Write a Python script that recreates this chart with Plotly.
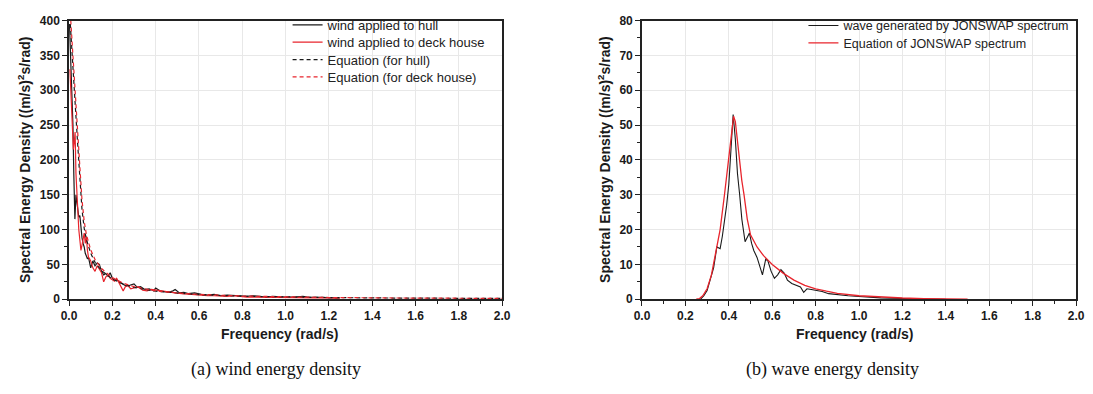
import plotly.graph_objects as go

# ---------- data: (a) wind energy density ----------
hull_f = [0.002, 0.006, 0.010, 0.014, 0.018, 0.022, 0.027, 0.032, 0.036, 0.040, 0.045, 0.050, 0.055,
          0.060, 0.065, 0.070, 0.075, 0.080, 0.085, 0.090, 0.095, 0.100, 0.110, 0.120, 0.130, 0.140,
          0.150, 0.160, 0.170, 0.180, 0.190, 0.200, 0.210, 0.220, 0.235, 0.250, 0.265, 0.280, 0.300,
          0.315, 0.330, 0.350, 0.370, 0.390, 0.400, 0.420, 0.440, 0.460, 0.480, 0.490, 0.510, 0.530,
          0.550, 0.580, 0.610, 0.640, 0.670, 0.700, 0.730, 0.760, 0.790, 0.820, 0.850, 0.880, 0.910,
          0.940, 0.970, 1.000, 1.040, 1.080, 1.100, 1.140, 1.180, 1.220, 1.250]
hull_v = [395, 360, 335, 310, 250, 180, 115, 150, 140, 125, 118, 120, 100, 88, 80, 75, 66, 62, 58,
          60, 50, 45, 55, 48, 52, 50, 40, 35, 37, 33, 38, 30, 27, 28, 24, 22, 19, 20, 22, 17, 18, 14,
          15, 12, 16, 12, 11, 10, 12, 14, 9, 10, 8, 9, 7, 6, 7, 5, 6, 6, 5, 4, 5, 4, 3, 4, 3, 3, 3, 4,
          3, 3, 2, 2, 2]

deck_f = [0.004, 0.008, 0.012, 0.016, 0.020, 0.024, 0.028, 0.032, 0.036, 0.040, 0.045, 0.050, 0.055,
          0.060, 0.065, 0.070, 0.075, 0.080, 0.085, 0.090, 0.095, 0.100, 0.110, 0.120, 0.130, 0.140,
          0.150, 0.160, 0.170, 0.180, 0.190, 0.200, 0.210, 0.220, 0.235, 0.250, 0.260, 0.270, 0.285,
          0.300, 0.320, 0.340, 0.360, 0.380, 0.400, 0.430, 0.460, 0.490, 0.520, 0.550, 0.580, 0.610,
          0.640, 0.670, 0.700, 0.730, 0.760, 0.790, 0.820, 0.860, 0.900, 0.940, 0.980, 1.020, 1.060,
          1.100, 1.140, 1.180, 1.220, 1.250]
deck_v = [330, 300, 285, 250, 215, 225, 240, 180, 150, 120, 100, 85, 70, 78, 90, 95, 80, 90, 70, 60,
          58, 55, 45, 40, 48, 42, 38, 25, 32, 35, 30, 28, 26, 30, 22, 12, 18, 20, 15, 16, 18, 13, 12,
          14, 13, 11, 10, 9, 8, 7, 6, 6, 5, 5, 4, 4, 5, 4, 3, 3, 3, 2.5, 2.5, 2, 2.5, 2, 2, 1.8, 1.6, 1.5]

eq_f = [0.004, 0.010, 0.020, 0.030, 0.040, 0.050, 0.060, 0.070, 0.080, 0.100, 0.120, 0.150, 0.200,
        0.250, 0.300, 0.400, 0.500, 0.600, 0.800, 1.000, 1.200, 1.500, 1.800, 2.000]
eq_hull_v = [405, 370, 322, 272, 222, 172, 128, 102, 86, 66, 53, 41, 29, 22, 17, 11.5, 8.5, 6.5, 4.3,
             3.1, 2.4, 1.7, 1.3, 1.1]
eq_deck_v = [420, 392, 345, 295, 245, 190, 142, 112, 93, 71, 57, 44, 31, 23, 18, 12, 9, 7, 4.6, 3.3,
             2.5, 1.8, 1.4, 1.2]

# ---------- data: (b) wave energy density ----------
wave_f = [0.270, 0.285, 0.300, 0.315, 0.330, 0.345, 0.360, 0.370, 0.380, 0.390, 0.400, 0.410, 0.420,
          0.430, 0.440, 0.450, 0.460, 0.475, 0.485, 0.495, 0.505, 0.515, 0.530, 0.545, 0.555, 0.570,
          0.580, 0.595, 0.610, 0.625, 0.640, 0.655, 0.670, 0.690, 0.710, 0.730, 0.745, 0.760, 0.780,
          0.800, 0.830, 0.860, 0.900, 0.950, 1.000, 1.050, 1.100, 1.200, 1.300, 1.400]
wave_v = [0.0, 1.0, 2.5, 5.5, 9.0, 15.0, 14.5, 18.0, 22.0, 27.0, 33.0, 42.0, 53.0, 46.0, 36.0, 30.0,
          23.0, 16.5, 18.0, 19.0, 16.0, 14.0, 12.0, 9.0, 7.0, 11.5, 11.0, 8.0, 6.0, 7.0, 8.5, 7.5,
          5.5, 4.5, 4.0, 3.5, 2.0, 3.0, 2.8, 2.6, 2.2, 1.6, 1.3, 1.0, 0.8, 0.5, 0.4, 0.2, 0.1, 0.0]

jon_f = [0.250, 0.265, 0.280, 0.300, 0.320, 0.340, 0.360, 0.380, 0.395, 0.405, 0.415, 0.422, 0.430,
         0.440, 0.450, 0.460, 0.470, 0.485, 0.500, 0.530, 0.560, 0.600, 0.650, 0.700, 0.750, 0.800,
         0.850, 0.900, 1.000, 1.100, 1.200, 1.300, 1.400, 1.500]
jon_v = [0.0, 0.2, 1.0, 3.0, 7.0, 13.0, 20.0, 30.0, 38.0, 45.0, 50.5, 52.5, 51.0, 45.0, 39.0, 34.0,
         30.0, 23.0, 18.5, 15.0, 12.5, 10.0, 7.5, 5.5, 4.0, 3.0, 2.3, 1.7, 1.0, 0.6, 0.35, 0.2, 0.1, 0.04]

x_ticks = [0.0, 0.2, 0.4, 0.6, 0.8, 1.0, 1.2, 1.4, 1.6, 1.8, 2.0]
x_tick_text = ["0.0", "0.2", "0.4", "0.6", "0.8", "1.0", "1.2", "1.4", "1.6", "1.8", "2.0"]

RED = "#e8242c"
BLACK = "#1a1a1a"
DASH = "4px,3px"

fig = go.Figure()
fig.add_trace(go.Scatter(x=hull_f, y=hull_v, mode="lines", name="wind applied to hull",
                         line=dict(color=BLACK, width=1.2), xaxis="x", yaxis="y", legend="legend"))
fig.add_trace(go.Scatter(x=deck_f, y=deck_v, mode="lines", name="wind applied to deck house",
                         line=dict(color=RED, width=1.2), xaxis="x", yaxis="y", legend="legend3"))
fig.add_trace(go.Scatter(x=eq_f, y=eq_hull_v, mode="lines", name="Equation (for hull)",
                         line=dict(color=BLACK, width=1.2, dash=DASH), xaxis="x", yaxis="y", legend="legend4"))
fig.add_trace(go.Scatter(x=eq_f, y=eq_deck_v, mode="lines", name="Equation (for deck house)",
                         line=dict(color=RED, width=1.2, dash=DASH), xaxis="x", yaxis="y", legend="legend5"))

fig.add_trace(go.Scatter(x=wave_f, y=wave_v, mode="lines", name="wave generated by JONSWAP spectrum",
                         line=dict(color=BLACK, width=1.1), xaxis="x2", yaxis="y2", legend="legend2"))
fig.add_trace(go.Scatter(x=jon_f, y=jon_v, mode="lines", name="Equation of JONSWAP spectrum",
                         line=dict(color=RED, width=1.3), xaxis="x2", yaxis="y2", legend="legend6"))

W, H = 1093, 394
def px(x):
    return x / W
def py(y):
    return 1 - y / H

tickfont = dict(family="Arial", size=12, color="#1a1a1a", weight="bold")
common_x = dict(range=[0, 2.0], tickvals=x_ticks, ticktext=x_tick_text, ticks="outside", ticklen=5,
                tickwidth=1.3, tickcolor="#222", showline=True, linecolor="#222", linewidth=1.6,
                mirror=True, showgrid=True, gridcolor="#e8e8e8", gridwidth=1, zeroline=False,
                tickfont=tickfont, minor=dict(ticks="outside", ticklen=3, tickcolor="#222", dtick=0.1,
                                              showgrid=False))
common_y = dict(ticks="outside", ticklen=5, tickwidth=1.3, tickcolor="#222", showline=True,
                linecolor="#222", linewidth=1.6, mirror=True, showgrid=True, gridcolor="#e8e8e8",
                gridwidth=1, zeroline=False, tickfont=tickfont)


def leg(x_px, top_px, size):
    return dict(x=px(x_px), y=py(top_px), xanchor="left", yanchor="top", bgcolor="rgba(0,0,0,0)",
                font=dict(family="Arial", size=size, color="#222"), itemwidth=30)


ydom = [py(303), py(14)]
fig.update_layout(
    width=W, height=H, margin=dict(l=0, r=0, t=0, b=0),
    paper_bgcolor="white", plot_bgcolor="white",
    xaxis=dict(domain=[px(62), px(502)], anchor="y", **common_x),
    yaxis=dict(domain=ydom, anchor="x", range=[0, 400], dtick=50,
               minor=dict(ticks="outside", ticklen=3, tickcolor="#222", dtick=25, showgrid=False),
               **common_y),
    xaxis2=dict(domain=[px(644), px(1085)], anchor="y2", **common_x),
    yaxis2=dict(domain=ydom, anchor="x2", range=[0, 80], dtick=10,
                minor=dict(ticks="outside", ticklen=3, tickcolor="#222", dtick=5, showgrid=False),
                **common_y),
    legend=leg(284, 3, 13),
    legend3=leg(284, 21, 13),
    legend4=leg(284, 39, 13),
    legend5=leg(284, 57, 13),
    legend2=leg(808, 4, 12.5),
    legend6=leg(808, 22, 12.5),
    showlegend=True,
)

ytitle = "Spectral Energy Density ((m/s)<sup>2</sup>s/rad)"
title_font = dict(family="Arial", size=14, color="#1a1a1a", weight="bold")
annots = [
    dict(x=px(17), y=py(158), text=ytitle, textangle=-90, font=title_font),
    dict(x=px(606), y=py(158), text=ytitle, textangle=-90, font=title_font),
    dict(x=px(276), y=py(339), text="Frequency (rad/s)", font=title_font),
    dict(x=px(860), y=py(339), text="Frequency (rad/s)", font=title_font),
    dict(x=px(272), y=py(376), text="(a) wind energy density",
         font=dict(family="Liberation Serif", size=18, color="#111")),
    dict(x=px(838), y=py(376), text="(b) wave energy density",
         font=dict(family="Liberation Serif", size=18, color="#111")),
]
for a in annots:
    fig.add_annotation(xref="paper", yref="paper", showarrow=False, xanchor="center",
                       yanchor="middle", **a)

fig.write_html("out.html")
